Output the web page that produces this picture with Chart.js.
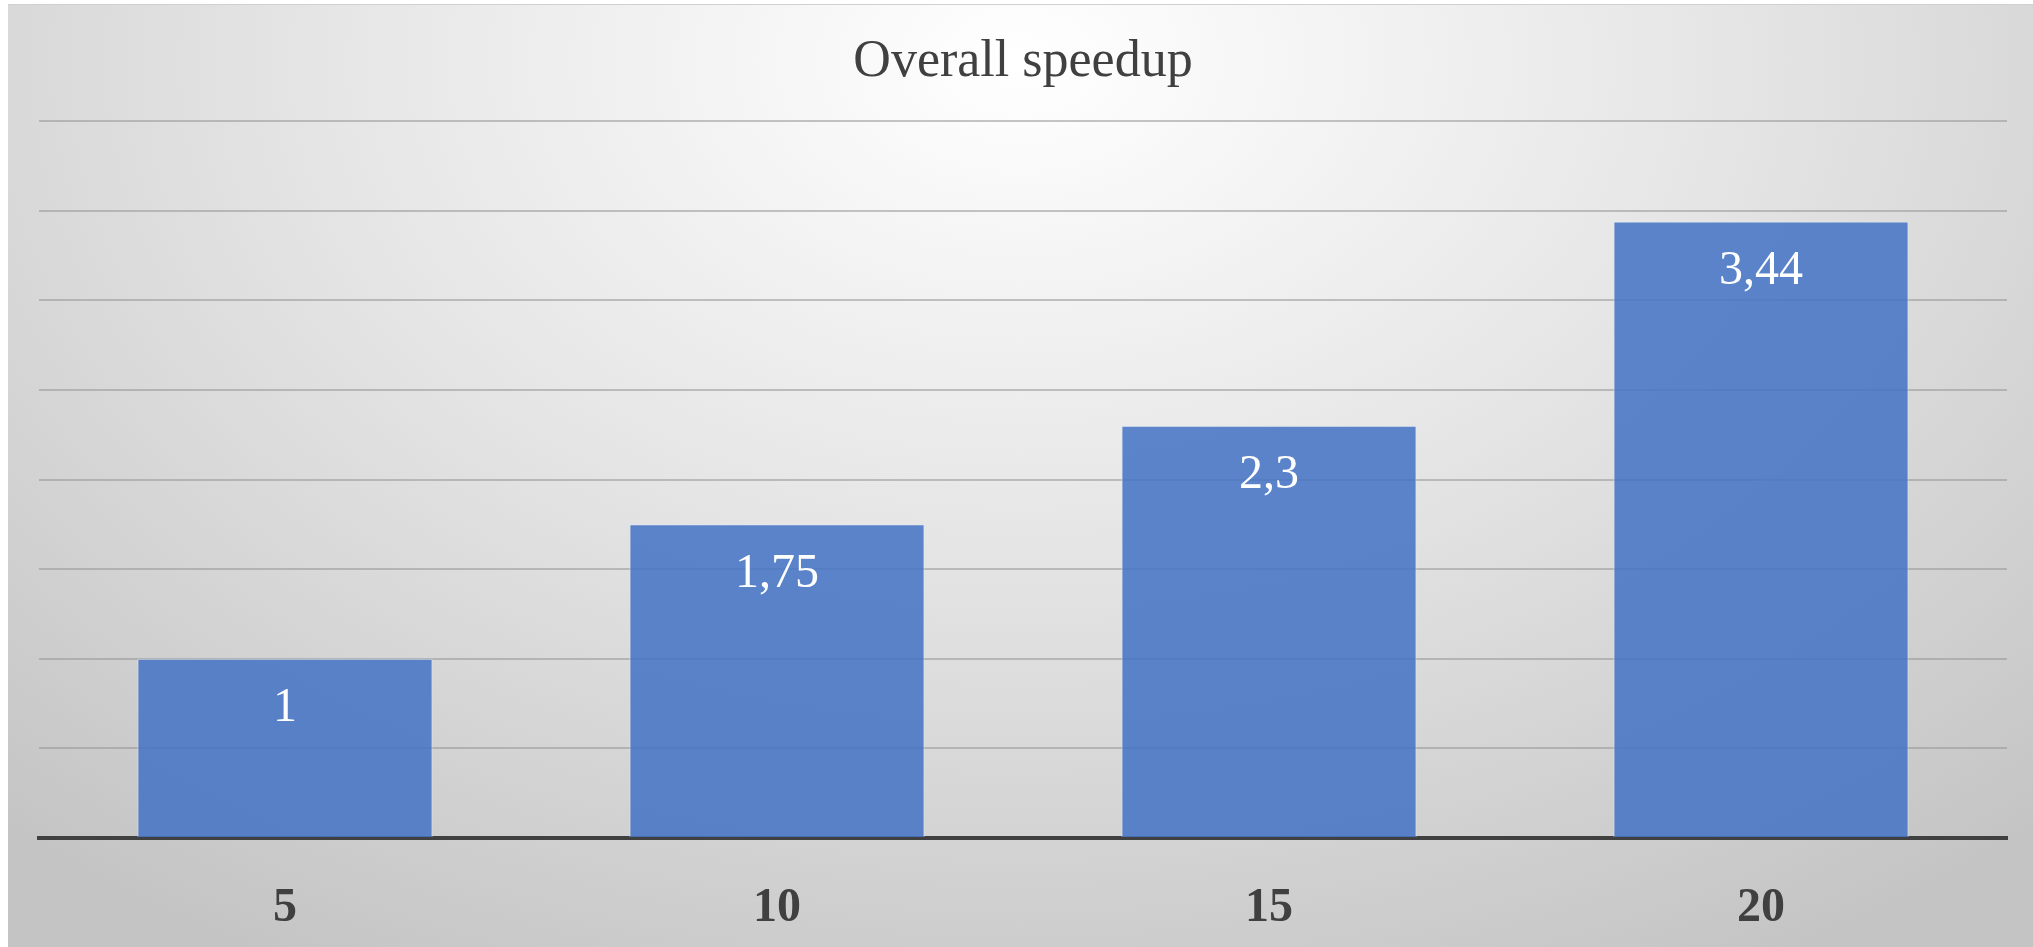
<!DOCTYPE html>
<html>
<head>
<meta charset="utf-8">
<script src="https://cdn.jsdelivr.net/npm/chart.js@4"></script>
<style>
  html, body { margin: 0; padding: 0; background: #fff; }
  #box {
    position: absolute; left: 8px; top: 4px; width: 2025px; height: 943px;
    background: radial-gradient(ellipse 75% 110% at 50% 6%, #ffffff 0%, #e6e6e6 45%, #c4c4c4 100%);
    border-top: 1px solid #d0d0d0;
    box-sizing: border-box;
  }
  #chart { display: block; }
</style>
</head>
<body>
<div id="box"><canvas id="chart" width="2025" height="942"></canvas></div>
<script>
const categories = ['5', '10', '15', '20'];
const speedup = [1, 1.75, 2.3, 3.44];
const yTicks = [0, 0.5, 1, 1.5, 2, 2.5, 3, 3.5, 4];

const serif = '"Liberation Serif", "Times New Roman", serif';

// value labels inside the top of each bar, decimal comma
const barLabels = {
  id: 'barLabels',
  afterDatasetsDraw(chart) {
    const { ctx } = chart;
    const meta = chart.getDatasetMeta(0);
    ctx.save();
    ctx.font = '48px ' + serif;
    ctx.fillStyle = '#ffffff';
    ctx.textAlign = 'center';
    ctx.textBaseline = 'middle';
    meta.data.forEach((bar, i) => {
      const txt = String(speedup[i]).replace('.', ',');
      ctx.fillText(txt, bar.x, bar.y + 50);
    });
    ctx.restore();
  },
};

new Chart(document.getElementById('chart'), {
  type: 'bar',
  data: {
    labels: categories,
    datasets: [{
      data: speedup,
      backgroundColor: 'rgba(70,116,197,0.87)',
      borderColor: 'rgba(225,235,250,0.7)',
      borderWidth: { left: 1, right: 1, top: 1, bottom: 0 },
      barPercentage: 0.6,
      categoryPercentage: 1,
    }],
  },
  options: {
    responsive: false,
    animation: false,
    layout: { padding: { left: 31, right: 26, top: 0, bottom: 0 } },
    plugins: {
      legend: { display: false },
      tooltip: { enabled: false },
      title: {
        display: true,
        text: 'Overall speedup',
        color: '#404040',
        font: { family: serif, size: 52, weight: 'normal' },
        padding: { top: 26, bottom: 27.6 },
      },
    },
    scales: {
      x: {
        grid: { display: false },
        border: { display: true, color: '#404040', width: 4 },
        ticks: {
          color: '#404040',
          font: { family: serif, size: 48, weight: 'bold' },
          padding: 34,
        },
        afterFit(scale) { scale.height = 109; },
      },
      y: {
        min: 0,
        max: 4,
        afterBuildTicks(scale) { scale.ticks = yTicks.map(v => ({ value: v })); },
        ticks: { display: false },
        border: { display: false },
        grid: {
          color: (c) => c.tick && c.tick.value === 0 ? 'rgba(0,0,0,0)' : 'rgba(150,150,150,0.55)',
          lineWidth: 2,
          drawTicks: false,
        },
        afterFit(scale) { scale.width = 0; },
      },
    },
  },
  plugins: [barLabels],
});
</script>
</body>
</html>
